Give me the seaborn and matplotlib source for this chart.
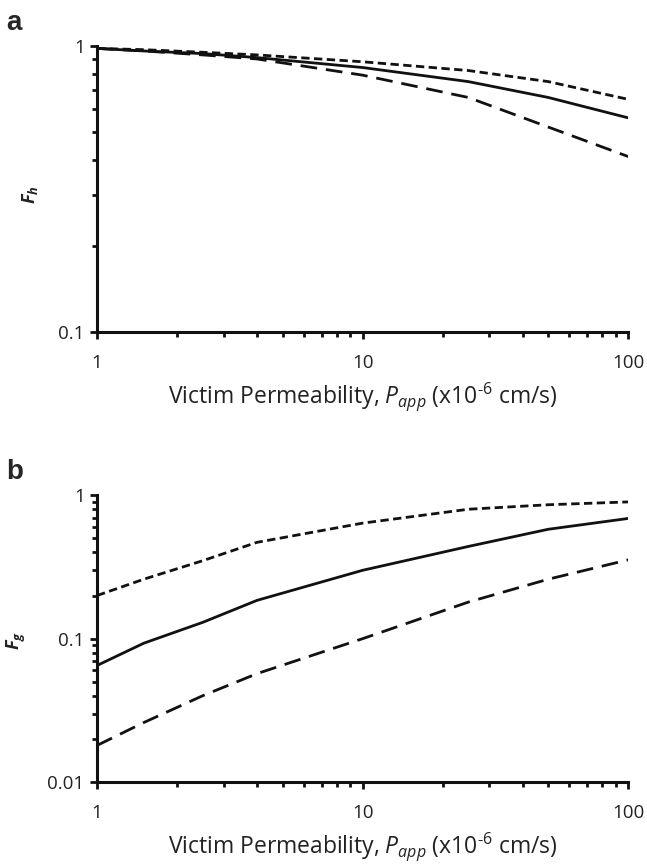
import numpy as np
import pandas as pd
import matplotlib
matplotlib.use("Agg")
import matplotlib.pyplot as plt
import seaborn as sns
from matplotlib.ticker import LogLocator, FixedLocator, FixedFormatter, NullFormatter

# ---- data ----
papp = [1, 1.5, 2.5, 4, 10, 25, 50, 100]

fh_mid = [0.98, 0.96, 0.94, 0.91, 0.84, 0.75, 0.66, 0.56]
fh_high = [0.98, 0.97, 0.95, 0.93, 0.88, 0.82, 0.75, 0.65]
fh_low = [0.98, 0.96, 0.93, 0.90, 0.79, 0.66, 0.52, 0.41]

fg_mid = [0.065, 0.093, 0.13, 0.185, 0.30, 0.44, 0.58, 0.69]
fg_high = [0.20, 0.26, 0.35, 0.47, 0.64, 0.80, 0.86, 0.90]
fg_low = [0.018, 0.026, 0.040, 0.057, 0.10, 0.18, 0.26, 0.355]

series_names = ["mid", "high", "low"]
x_ticks = [1, 10, 100]
x_tick_labels = ["1", "10", "100"]

sns.set_theme(style="ticks")
plt.rcParams["font.family"] = ["Open Sans", "DejaVu Sans"]
plt.rcParams["mathtext.fontset"] = "custom"
plt.rcParams["mathtext.rm"] = "Open Sans"
plt.rcParams["mathtext.it"] = "Open Sans:italic"
plt.rcParams["mathtext.bf"] = "Open Sans:bold:italic"

def long_df(vals):
    rows = []
    for name, v in zip(series_names, vals):
        for x, y in zip(papp, v):
            rows.append({"Papp": x, "F": y, "series": name})
    return pd.DataFrame(rows)

dfa = long_df([fh_mid, fh_high, fh_low])
dfb = long_df([fg_mid, fg_high, fg_low])

dashes = {"mid": "", "high": (3, 1.6), "low": (6, 3.2)}
ink = "#111111"
txt = "#222222"

fig = plt.figure(figsize=(6.47, 8.66), dpi=100)
ax_a = fig.add_axes([0.150, 0.617, 0.821, 0.330])
ax_b = fig.add_axes([0.150, 0.097, 0.821, 0.331])

def style(ax, ymin, yticks, ylabels, ylab, ylab_xy):
    ax.set_xscale("log")
    ax.set_yscale("log")
    ax.set_xlim(1, 100)
    ax.set_ylim(ymin, 1)
    for s in ["top", "right"]:
        ax.spines[s].set_visible(False)
    for s in ["left", "bottom"]:
        ax.spines[s].set_linewidth(2.2)
        ax.spines[s].set_color(ink)
    ax.xaxis.set_major_locator(FixedLocator(x_ticks))
    ax.xaxis.set_major_formatter(FixedFormatter(x_tick_labels))
    ax.xaxis.set_minor_locator(LogLocator(base=10, subs=np.arange(2, 10)))
    ax.xaxis.set_minor_formatter(NullFormatter())
    ax.yaxis.set_major_locator(FixedLocator(yticks))
    ax.yaxis.set_major_formatter(FixedFormatter(ylabels))
    ax.yaxis.set_minor_locator(LogLocator(base=10, subs=np.arange(2, 10)))
    ax.yaxis.set_minor_formatter(NullFormatter())
    ax.tick_params(which="major", direction="out", length=5, width=2, color=ink,
                   labelsize=13.5, labelcolor=txt)
    ax.tick_params(which="minor", direction="out", length=3.5, width=2, color=ink)
    ax.tick_params(axis="x", which="major", pad=11)
    ax.tick_params(axis="y", which="major", pad=4)
    ax.set_xlabel("Victim Permeability, $\\mathit{P}_{\\mathit{app}}$ (x10$^{\\mathrm{\u20106}}$ cm/s)",
                  fontsize=16.5, color=txt, labelpad=6)
    ax.set_ylabel(ylab, fontsize=13, color=txt)
    ax.yaxis.set_label_coords(*ylab_xy)

sns.lineplot(data=dfa, x="Papp", y="F", style="series", dashes=dashes,
             color=ink, linewidth=2.0, ax=ax_a, legend=False)
sns.lineplot(data=dfb, x="Papp", y="F", style="series", dashes=dashes,
             color=ink, linewidth=2.0, ax=ax_b, legend=False)

style(ax_a, 0.1, [0.1, 1], ["0.1", "1"], r"$\mathbf{F}_{\mathbf{h}}$", (-0.108, 0.48))
style(ax_b, 0.01, [0.01, 0.1, 1], ["0.01", "0.1", "1"], r"$\mathbf{F}_{\mathbf{g}}$", (-0.130, 0.495))

fig.text(0.010, 0.965, "a", fontsize=20, fontweight="bold", family="Liberation Sans")
fig.text(0.010, 0.447, "b", fontsize=20, fontweight="bold", family="Liberation Sans")

fig.savefig("out.png", dpi=100, facecolor="white")
